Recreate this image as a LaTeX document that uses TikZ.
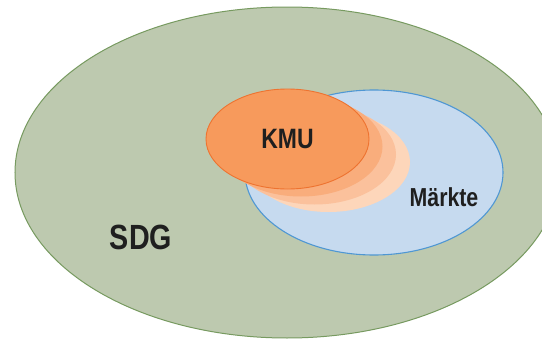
\documentclass[tikz,border=0pt]{standalone}
\usepackage{fontspec}
\setmainfont[FakeStretch=0.82]{Liberation Sans}
\usepackage{tikz}
\usetikzlibrary{shapes,arrows}

\definecolor{sdgfill}{HTML}{BDC9AF}
\definecolor{sdgline}{HTML}{779A60}
\definecolor{mktfill}{HTML}{C6DAEF}
\definecolor{mktline}{HTML}{4F97D3}
\definecolor{kmufill}{HTML}{F79A5C}
\definecolor{kmuline}{HTML}{EE7330}
\definecolor{kmuA}{HTML}{F9AD7C}
\definecolor{kmuB}{HTML}{FBC19C}
\definecolor{kmuC}{HTML}{FDD6BA}

\tikzset{
  blob/.style={ellipse, inner sep=0pt},
  lbl/.style={font=\bfseries, text=black!88}
}

\begin{document}
\begin{tikzpicture}[x=1pt, y=-1pt]
    \useasboundingbox (0,0) rectangle (542,340);
    \clip (0,0) rectangle (542,340);
    \node[blob, draw=sdgline, fill=sdgfill, line width=1pt, minimum width=544pt, minimum height=331pt] (sdg) at (287, 172.5) {};
    \node[blob, draw=mktline, fill=mktfill, line width=1.1pt, minimum width=258pt, minimum height=165pt] (markt) at (374, 172.5) {};
    \node[blob, fill=kmuC, minimum width=163pt, minimum height=100pt] (shadow3) at (328.5, 162) {};
    \node[blob, fill=kmuB, minimum width=163pt, minimum height=100pt] (shadow2) at (314.5, 154.5) {};
    \node[blob, fill=kmuA, minimum width=163pt, minimum height=100pt] (shadow1) at (301, 146.5) {};
    \node[blob, draw=kmuline, fill=kmufill, line width=0.9pt, minimum width=163pt, minimum height=100pt] (kmu) at (287.5, 139) {};
    \node[lbl, font=\bfseries\fontsize{28}{30}\selectfont] (kmutext) at (kmu) {KMU};
    \node[lbl, font=\bfseries\fontsize{26}{28}\selectfont] (markttext) at (444, 197) {Märkte};
    \node[lbl, font=\bfseries\fontsize{35}{38}\selectfont] (sdgtext) at (141, 237) {SDG};
\end{tikzpicture}
\end{document}
